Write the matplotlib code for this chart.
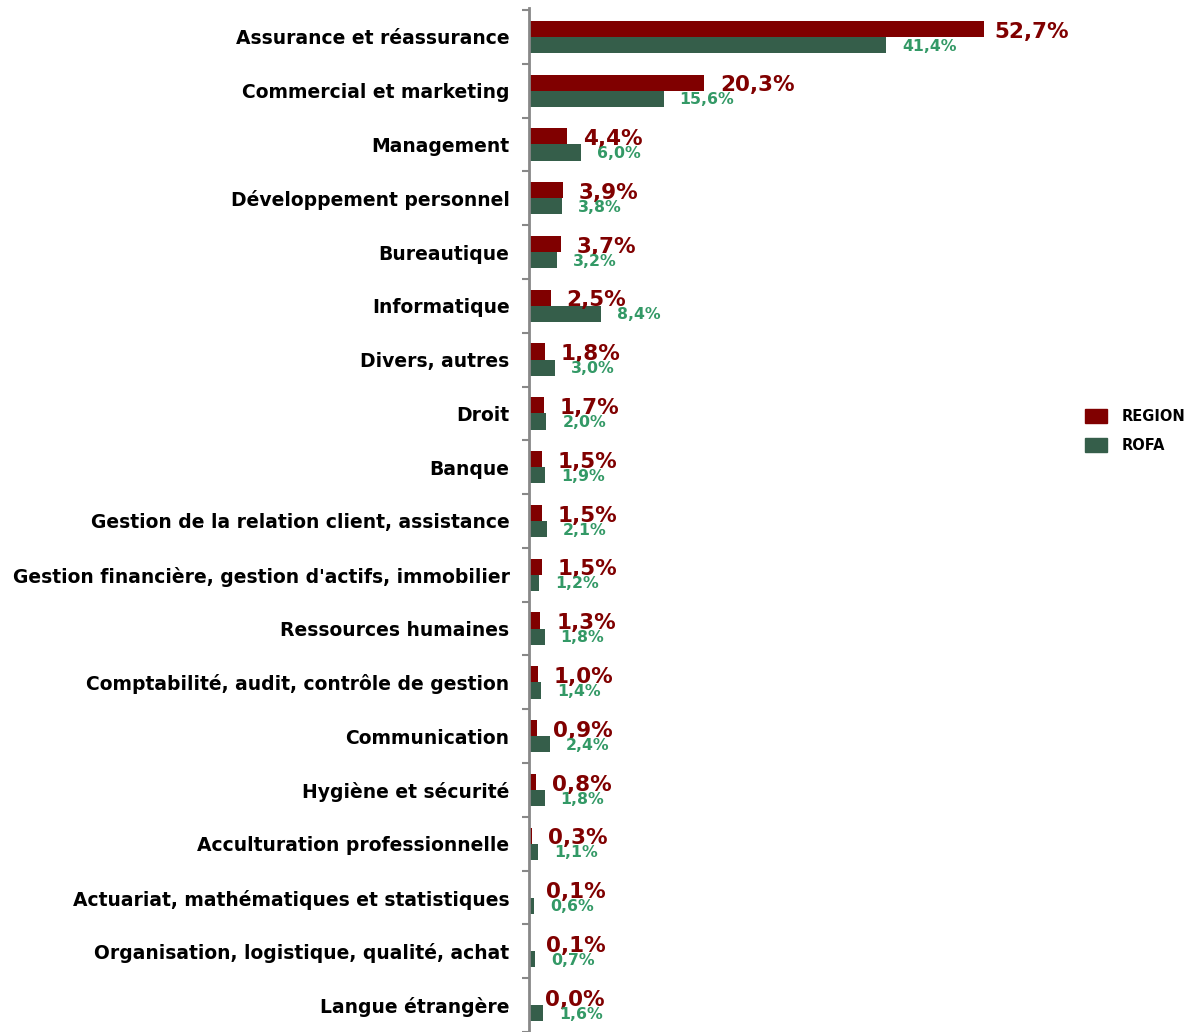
import numpy as np
import matplotlib.pyplot as plt
from matplotlib.patches import Patch

categories = [
    "Assurance et réassurance", "Commercial et marketing", "Management",
    "Développement personnel", "Bureautique", "Informatique", "Divers, autres",
    "Droit", "Banque", "Gestion de la relation client, assistance",
    "Gestion financière, gestion d'actifs, immobilier", "Ressources humaines",
    "Comptabilité, audit, contrôle de gestion", "Communication",
    "Hygiène et sécurité", "Acculturation professionnelle",
    "Actuariat, mathématiques et statistiques",
    "Organisation, logistique, qualité, achat", "Langue étrangère",
]
region = [52.7, 20.3, 4.4, 3.9, 3.7, 2.5, 1.8, 1.7, 1.5, 1.5, 1.5, 1.3, 1.0, 0.9, 0.8, 0.3, 0.1, 0.1, 0.0]
rofa = [41.4, 15.6, 6.0, 3.8, 3.2, 8.4, 3.0, 2.0, 1.9, 2.1, 1.2, 1.8, 1.4, 2.4, 1.8, 1.1, 0.6, 0.7, 1.6]

red = '#800000'
green = '#355e4a'
green_txt = '#339966'

fig = plt.figure(figsize=(11.94, 10.32), dpi=100)
ax = fig.add_axes([529 / 1194, 0, (1194 - 529) / 1194, 1 - 8 / 1032])

n = len(categories)
y = np.arange(n)
h = 0.3
ax.barh(y - h / 2, region, height=h, color=red)
ax.barh(y + h / 2, rofa, height=h, color=green)

ax.set_xlim(0, 665 / 8.63)
ax.set_ylim(n - 1 + 0.39, -0.537)

fmt = lambda v: f"{v:.1f}%".replace('.', ',')
for i in range(n):
    # the biggest label is pulled back a little, as in the original
    off = 11 if region[i] == max(region) else 16
    ax.annotate(fmt(region[i]), (region[i], i - 0.1), xytext=(off, 0), textcoords='offset pixels',
                va='center', ha='left', color=red, fontsize=15.5, fontweight='bold')
    ax.annotate(fmt(rofa[i]), (rofa[i], i + 0.17), xytext=(16, 0), textcoords='offset pixels',
                va='center', ha='left', color=green_txt, fontsize=11.3, fontweight='bold')

ax.set_yticks(y)
ax.set_yticklabels(categories, fontsize=13.5, fontweight='bold')
ax.set_yticks(np.arange(-0.5, n, 1), minor=True)
ax.tick_params(axis='y', which='major', length=0, pad=14)
ax.tick_params(axis='y', which='minor', length=5, width=1.5, color='#888888', direction='out')
ax.set_xticks([])
for s in ['top', 'right', 'bottom']:
    ax.spines[s].set_visible(False)
ax.spines['left'].set_color('#888888')
ax.spines['left'].set_linewidth(2)

handles = [Patch(color=red, label='REGION'), Patch(color=green, label='ROFA')]
fig.legend(handles=handles, loc='center left', bbox_to_anchor=(1072 / 1194, 1 - 431 / 1032),
           frameon=False, prop={'weight': 'bold', 'size': 10.5}, handlelength=1.5,
           handleheight=1.1, labelspacing=1.0, handletextpad=1.0)

fig.savefig('out.png', dpi=100)
